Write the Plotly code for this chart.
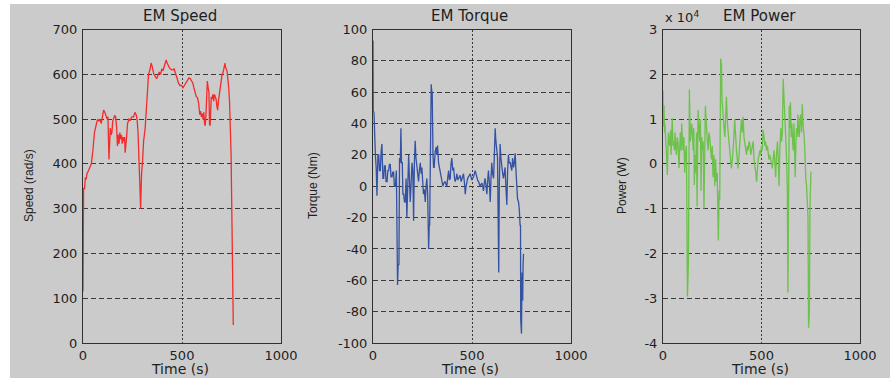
import plotly.graph_objects as go

# ---------------- data ----------------
speed_t = [0, 1, 2, 3, 8, 12, 16, 20, 28, 35, 42, 50, 58, 68, 74, 80, 86, 92, 98, 104, 110, 118, 122, 126, 129, 131, 134, 138, 142, 146, 150, 155, 160, 165, 170, 174, 178, 182, 186, 190, 194, 198, 202, 206, 210, 213, 216, 220, 225, 232, 239, 247, 255, 262, 268, 273, 278, 282, 285, 287, 289, 291, 293, 296, 300, 306, 314, 320, 326, 331, 338, 344, 348, 352, 358, 365, 372, 378, 385, 392, 398, 404, 410, 415, 420, 425, 430, 436, 442, 448, 455, 460, 465, 470, 476, 482, 490, 498, 505, 512, 520, 528, 535, 542, 548, 555, 560, 566, 572, 578, 584, 590, 594, 598, 602, 606, 610, 614, 617, 620, 624, 628, 632, 636, 639, 642, 645, 648, 652, 656, 660, 664, 668, 672, 676, 680, 684, 690, 696, 702, 708, 713, 717, 720, 724, 728, 732, 736, 740, 743, 746, 748, 750, 753, 755, 757, 758, 759]
speed_v = [115, 280, 275, 345, 345, 370, 365, 378, 385, 392, 400, 430, 470, 490, 500, 495, 500, 490, 505, 520, 515, 505, 500, 505, 440, 410, 440, 480, 465, 470, 495, 500, 508, 505, 480, 440, 465, 445, 470, 455, 465, 445, 460, 450, 460, 425, 455, 460, 490, 500, 498, 505, 505, 515, 510, 500, 470, 430, 400, 360, 330, 300, 360, 380, 400, 450, 480, 520, 560, 600, 610, 625, 620, 610, 600, 595, 590, 598, 605, 600, 612, 608, 618, 625, 632, 625, 618, 615, 612, 610, 610, 612, 605, 595, 590, 580, 575, 575, 570, 575, 580, 585, 592, 590, 585, 580, 570, 560, 550, 548, 535, 510, 518, 505, 512, 500, 515, 490, 485, 500, 560, 585, 570, 560, 490, 485, 520, 550, 545, 555, 540, 555, 550, 545, 530, 520, 540, 560, 580, 598, 605, 615, 625, 615, 612, 605, 590, 570, 540, 505, 480, 420, 350, 260, 180, 180, 100, 40]

torque_t = [0, 1, 5, 8, 12, 16, 20, 25, 29, 33, 37, 41, 45, 50, 54, 58, 62, 66, 71, 75, 79, 83, 87, 91, 96, 100, 104, 108, 113, 118, 121, 124, 127, 131, 134, 138, 141, 144, 148, 151, 155, 159, 163, 167, 171, 175, 180, 184, 188, 192, 197, 201, 205, 209, 213, 217, 222, 226, 230, 234, 239, 243, 247, 251, 255, 259, 264, 268, 272, 276, 281, 284, 286, 290, 294, 297, 299, 301, 303, 306, 309, 314, 319, 322, 326, 331, 336, 340, 345, 349, 353, 358, 365, 369, 373, 378, 382, 386, 390, 394, 398, 403, 407, 411, 415, 420, 424, 428, 432, 436, 440, 445, 449, 453, 457, 462, 466, 470, 474, 478, 482, 487, 491, 495, 499, 503, 508, 512, 516, 520, 524, 528, 533, 537, 541, 545, 550, 554, 558, 562, 566, 571, 575, 579, 583, 588, 592, 596, 600, 604, 609, 613, 617, 620, 622, 626, 629, 632, 635, 638, 642, 646, 651, 655, 659, 663, 667, 671, 676, 680, 684, 688, 693, 697, 701, 705, 710, 714, 718, 722, 726, 730, 735, 739, 743, 745, 746, 750, 752, 753, 755, 756, 758, 760]
torque_v = [93, 48, 47, 25, 20, 12, -6, 20, 20, 10, 10, 22, 27, 5, 5, 13, 13, 3, 3, 10, 10, 14, 14, 6, 6, 9, 9, 0, 0, 10, -20, -63, -50, -50, 18, 15, 37, 15, 15, -5, -5, -10, -10, 5, -20, 10, 20, 5, -10, 0, 15, 10, -22, 15, 29, 18, 10, 5, 3, 10, 15, 8, 12, 3, -5, -2, -10, 0, 5, -5, -40, -25, -25, 20, 65, 60, 60, 20, 20, 12, 12, 22, 25, 20, 26, 15, 12, 8, 5, 2, 0, 2, 3, 1, 0, 6, 10, 4, 5, 14, 18, 10, 12, 6, 3, 5, 8, 4, 5, 6, 7, 3, 5, 6, 8, 2, -5, 0, 3, 5, 6, 7, 8, 6, 4, 5, 6, 8, 10, 8, 5, 4, 3, 2, 0, 1, 2, 0, -3, 2, 5, 0, -5, 3, 10, 2, -10, 5, 15, 8, 5, 20, 37, 30, 28, 22, 18, -20, -55, 0, 27, 18, 10, 8, 5, 10, 12, 0, -12, 10, 20, 15, 15, 12, 10, 18, 12, 15, 21, 10, -5, -8, -10, -15, -25, -25, -85, -94, -60, -55, -70, -73, -50, -43]

power_t = [0, 1, 2, 5, 8, 10, 14, 17, 22, 27, 31, 34, 38, 41, 44, 47, 51, 54, 58, 61, 65, 68, 72, 76, 81, 85, 88, 92, 95, 99, 102, 106, 110, 114, 119, 124, 129, 134, 137, 139, 142, 146, 150, 153, 156, 159, 163, 166, 170, 173, 178, 182, 186, 190, 193, 197, 200, 204, 208, 215, 220, 225, 229, 233, 237, 242, 246, 250, 254, 259, 263, 267, 271, 275, 278, 281, 285, 288, 293, 297, 300, 305, 310, 314, 318, 322, 327, 331, 335, 339, 343, 347, 352, 356, 360, 364, 369, 373, 377, 381, 386, 390, 394, 398, 403, 407, 411, 415, 420, 424, 428, 432, 437, 441, 445, 449, 454, 458, 462, 466, 471, 475, 479, 483, 488, 492, 496, 500, 504, 508, 513, 517, 521, 525, 530, 534, 538, 542, 547, 551, 555, 559, 564, 568, 572, 576, 581, 585, 589, 593, 598, 602, 606, 610, 615, 619, 624, 628, 631, 634, 637, 641, 644, 647, 651, 654, 658, 661, 665, 668, 671, 675, 678, 681, 685, 688, 692, 695, 699, 703, 707, 712, 715, 719, 722, 725, 729, 732, 736, 739, 743, 746, 751, 756, 759, 763]
power_w = [16300, 8300, 12000, 13100, 7000, 9000, 5000, 3100, -2500, 7000, 5000, 4000, 7500, 2000, 6000, 10200, 4000, 5000, 3000, 7000, 3500, 2000, 6000, 5000, -1000, 4500, 7000, 3000, 9000, 5000, 3000, 6000, -2000, 2500, 4000, -29600, -22000, 16600, 8000, 5000, 7000, 9000, 6000, 3000, 8000, -4700, 2000, -2000, 7000, -9500, 12000, 8000, 5000, 10000, -6000, 6000, 3000, 5000, -10000, 12900, 8000, 5000, 3000, 7000, 6000, 3500, 1000, 4000, -3000, 2000, -5000, 1000, -4000, -2000, -10000, -17100, -6000, -8000, 23500, 22000, 14000, 10000, 8000, 6000, 10000, 15000, 9000, 7000, 5000, 4000, 2000, -1000, 1000, 3000, 6000, 10000, 5000, 3000, 1000, -1000, 2000, 5000, 8000, 10000, 7000, 10500, 6000, 5000, 3000, 2000, 4000, 3000, 5000, 4500, 2000, 3000, 4000, 5000, 1000, 0, -2000, -4000, -1000, 1000, 2000, 3000, 2000, 4000, 3000, 7600, 6000, 4000, 5000, 3000, 4000, 2000, 1000, 2000, 1000, 0, -1000, 1000, 3000, 0, -3000, 2000, 5000, 1000, -5000, 3000, 8000, 5000, 7000, 19000, 15000, 9000, 5000, 0, -6000, -28700, 5000, 13000, 8000, 13700, 6000, 9000, 5000, 3000, 9000, 2000, -3000, 5000, 8000, 6000, 11000, 7000, 6000, 10000, 11000, 7000, 13300, 8000, 7000, 4000, -3000, -3500, -5000, -8000, -12000, -36600, -33000, -10000, -1700]

x_ticks = [0, 500, 1000]
speed_ticks = [0, 100, 200, 300, 400, 500, 600, 700]
torque_ticks = [-100, -80, -60, -40, -20, 0, 20, 40, 60, 80, 100]
power_ticks = [-40000, -30000, -20000, -10000, 0, 10000, 20000, 30000]
power_tick_text = ["-4", "-3", "-2", "-1", "0", "1", "2", "3"]

titles = ["EM Speed", "EM Torque", "EM Power"]
y_titles = ["Speed (rad/s)", "Torque (Nm)", "Power (W)"]
x_title = "Time (s)"

# ---------------- layout helpers ----------------
W, H = 890, 378
def px(x):
    return x / W
def py(y):
    return 1 - y / H

TOP, BOT = 29.5, 343
panels_x = [(83, 281), (373, 571), (663, 860)]
ytitle_x = [29, 313, 622]

FONT = "DejaVu Sans"
TXT = "#1e1e1e"
GRID = "#3a3a3a"

fig = go.Figure()
fig.add_trace(go.Scatter(x=speed_t, y=speed_v, mode="lines",
                         line=dict(color="#f52a2a", width=1.3), xaxis="x", yaxis="y"))
fig.add_trace(go.Scatter(x=torque_t, y=torque_v, mode="lines",
                         line=dict(color="#3452a4", width=1.3), xaxis="x2", yaxis="y2"))
fig.add_trace(go.Scatter(x=power_t, y=power_w, mode="lines",
                         line=dict(color="#6cc24a", width=1.3), xaxis="x3", yaxis="y3"))

layout = dict(
    width=W, height=H, margin=dict(l=0, r=0, t=0, b=0, autoexpand=False),
    paper_bgcolor="white", plot_bgcolor="white", showlegend=False,
    font=dict(family=FONT, size=13, color=TXT),
    shapes=[dict(type="rect", xref="paper", yref="paper", x0=px(10), x1=1, y0=0, y1=py(4),
                 fillcolor="#cbcbcb", line=dict(width=0), layer="below")],
    annotations=[],
)

yranges = [(0, 700), (-100, 100), (-40000, 30000)]
yticks = [(speed_ticks, [str(v) for v in speed_ticks]),
          (torque_ticks, [str(v) for v in torque_ticks]),
          (power_ticks, power_tick_text)]

for i in range(3):
    sfx = "" if i == 0 else str(i + 1)
    x0, x1 = panels_x[i]
    common = dict(showline=True, mirror=True, linecolor="#303030", linewidth=1,
                  zeroline=False, ticks="", showgrid=True, gridcolor=GRID, gridwidth=1,
                  automargin=False,
                  tickfont=dict(family=FONT, size=13, color=TXT), fixedrange=True)
    layout["xaxis" + sfx] = dict(common, domain=[px(x0), px(x1)], range=[0, 1000],
                                 tickvals=x_ticks, ticktext=[str(v) for v in x_ticks],
                                 griddash="2px,2px", anchor="y" + sfx)
    layout["yaxis" + sfx] = dict(common, domain=[py(BOT), py(TOP)], range=list(yranges[i]),
                                 tickvals=yticks[i][0], ticktext=yticks[i][1],
                                 griddash="5px,3px", anchor="x" + sfx, ticklabelstandoff=2)
    cx = (x0 + x1) / 2 - 2
    layout["annotations"].append(dict(text=titles[i], x=px(cx), y=py(16), xref="paper", yref="paper",
                                      showarrow=False, xanchor="center", yanchor="middle",
                                      font=dict(family=FONT, size=15, color=TXT)))
    layout["annotations"].append(dict(text=x_title, x=px(cx), y=py(369), xref="paper", yref="paper",
                                      showarrow=False, xanchor="center", yanchor="middle",
                                      font=dict(family=FONT, size=14, color=TXT)))
    layout["annotations"].append(dict(text=y_titles[i], x=px(ytitle_x[i]), y=py(186), xref="paper",
                                      yref="paper", showarrow=False, textangle=-90,
                                      xanchor="center", yanchor="middle",
                                      font=dict(family="Liberation Sans", size=12, color=TXT)))

layout["annotations"].append(dict(text="x 10<sup>4</sup>", x=px(663), y=py(17), xref="paper", yref="paper",
                                  showarrow=False, xanchor="left", yanchor="middle",
                                  font=dict(family=FONT, size=13, color=TXT)))

fig.update_layout(**layout)
fig.write_html("out.html", config={"displayModeBar": False},
               post_script="document.body.style.margin='0px';document.body.style.overflow='hidden';")
